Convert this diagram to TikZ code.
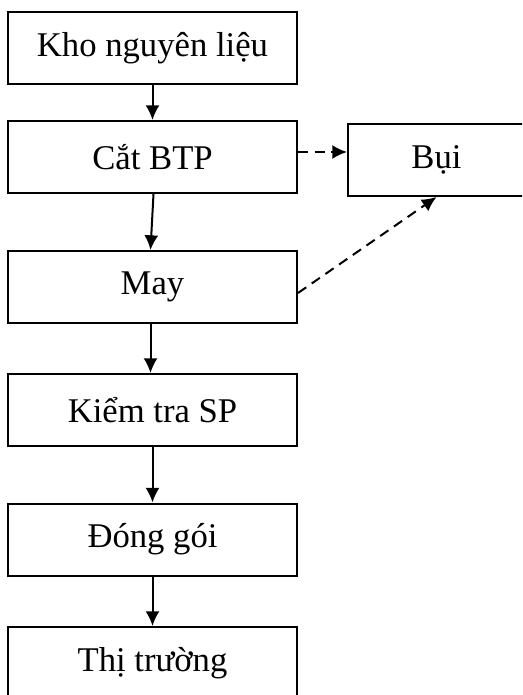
\documentclass[tikz,border=0pt]{standalone}
\usepackage{fontspec}
\setmainfont{Liberation Serif}
\usetikzlibrary{positioning}
\usetikzlibrary{arrows.meta}
\usetikzlibrary{calc}

\begin{document}
\begin{tikzpicture}[x=0.75pt,y=-0.75pt,line width=1.5pt,
  stepbox/.style={draw,minimum width=216.75pt,minimum height=54pt,inner sep=0pt,font=\fontsize{26}{30}\selectfont},
  flow/.style={-{Latex[length=11pt,width=10.5pt]}},
  dustflow/.style={flow,dash pattern=on 7.5pt off 5pt}]
  \clip (0,0) rectangle (522,695);
  \node[stepbox] (Kho) at (152.5,48) {Kho nguyên liệu};
  \node[stepbox] (Cat) at (152.5,157) {Cắt BTP};
  \node[stepbox] (May) at (152.5,287) {May};
  \node[stepbox] (Kiem) at (152.5,410) {Kiểm tra SP};
  \node[stepbox] (Dong) at (152.5,539.5) {Đóng gói};
  \node[stepbox] (Thi) at (152.5,663) {Thị trường};
  \node[stepbox,minimum width=132.75pt] (Bui) at (436.5,160) {Bụi};
  \coordinate (CatOut) at ([yshift=3.75pt]Cat.east);
  \draw[flow] (Kho) -- (Cat);
  \draw[flow] ([xshift=0.75pt]Cat.south) -- ([xshift=-1.5pt]May.north);
  \draw[flow] ([xshift=-1.5pt]May.south) -- ([xshift=-1.5pt]Kiem.north);
  \draw[flow] (Kiem) -- (Dong);
  \draw[flow] (Dong) -- (Thi);
  \draw[dustflow] (CatOut) -- (CatOut -| Bui.west);
  \draw[dustflow] ([yshift=-4.5pt]May.east) -- (Bui.south);
\end{tikzpicture}
\end{document}
